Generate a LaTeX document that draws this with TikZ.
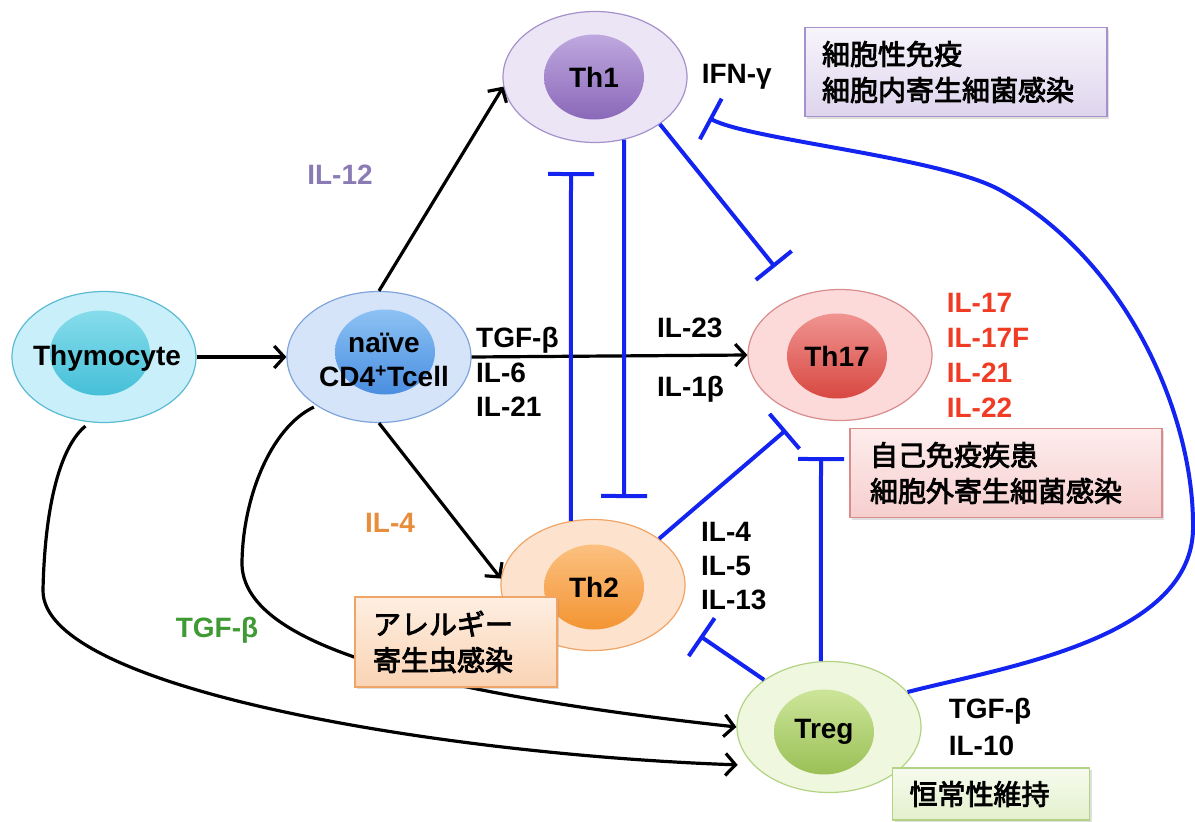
\documentclass[tikz,border=0pt]{standalone}
\usepackage{fontspec}
\setmainfont{Liberation Sans}
\newfontfamily\cjk{Noto Sans CJK JP}[UprightFeatures={FakeBold=3}]
\usetikzlibrary{arrows.meta,shapes.geometric,positioning,shadows}
\definecolor{thyout}{HTML}{C9F0FA}
\definecolor{thyline}{HTML}{5BBBD3}
\definecolor{thyinA}{HTML}{86DCEB}
\definecolor{thyinB}{HTML}{45C0D8}
\definecolor{naiveout}{HTML}{D6E4FA}
\definecolor{naiveline}{HTML}{7FA5DB}
\definecolor{naiveinA}{HTML}{8CC2F4}
\definecolor{naiveinB}{HTML}{4A8EE0}
\definecolor{thoneout}{HTML}{ECE5F5}
\definecolor{thoneline}{HTML}{A591CB}
\definecolor{thoneinA}{HTML}{BFA8DF}
\definecolor{thoneinB}{HTML}{8A68B9}
\definecolor{thsevout}{HTML}{FCDADA}
\definecolor{thsevline}{HTML}{D88C8C}
\definecolor{thsevinA}{HTML}{F09490}
\definecolor{thsevinB}{HTML}{D84842}
\definecolor{thtwoout}{HTML}{FDE3CE}
\definecolor{thtwoline}{HTML}{F0A466}
\definecolor{thtwoinA}{HTML}{FCC080}
\definecolor{thtwoinB}{HTML}{F39533}
\definecolor{tregout}{HTML}{EFF7DE}
\definecolor{tregline}{HTML}{B3D384}
\definecolor{treginA}{HTML}{CDE59A}
\definecolor{treginB}{HTML}{9AC056}
\definecolor{inhblue}{HTML}{1424F0}
\definecolor{ilpurple}{HTML}{8A7BB5}
\definecolor{ilorange}{HTML}{E88D3B}
\definecolor{ilgreen}{HTML}{3F9A34}
\definecolor{ilred}{HTML}{F03C24}
\tikzset{
    cellout/.style={
        ellipse,
        line width=1.2pt,
        minimum width=184pt,
        minimum height=131pt,
        inner sep=0pt,
    },
    cellin/.style={
        ellipse,
        align=center,
        minimum width=100pt,
        minimum height=85pt,
        inner sep=0pt,
    },
    act/.style={
        -{Straight Barb[length=10pt,width=22pt]},
        line width=3.2pt,
    },
    inhib/.style={
        -{Bar[width=46pt]},
        draw=inhblue,
        line width=4pt,
    },
    cyto/.style={
        align=left,
        inner sep=0pt,
    },
    notebox/.style={
        rectangle,
        line width=1.2pt,
        align=left,
        inner ysep=0pt,
        font=\cjk\mdseries\fontsize{28}{36}\selectfont,
        drop shadow={shadow xshift=2pt,shadow yshift=-2pt,opacity=0.25},
    }
}

\begin{document}
\begin{tikzpicture}[x=1pt,y=-1pt,font=\bfseries\fontsize{28}{35}\selectfont]
    \useasboundingbox (0,0) rectangle (1195,822);

    % cells
    \node [cellout,draw=thyline,fill=thyout] (thy) at (104,357) {};
    \node [cellin,top color=thyinA,bottom color=thyinB] (thyN) at (100,353) {};
    \node (thyT) at (107,358) {Thymocyte};
    \node [cellout,draw=naiveline,fill=naiveout] (naive) at (379,357) {};
    \node [cellin,top color=naiveinA,bottom color=naiveinB] (naiveN) at (385,352) {};
    \node [align=center,font=\bfseries\fontsize{28}{34}\selectfont] (naiveT) at (384,360)
        {naïve\\CD4\textsuperscript{+}Tcell};
    \node [cellout,draw=thoneline,fill=thoneout] (th1) at (595,77) {};
    \node [cellin,top color=thoneinA,bottom color=thoneinB] (th1N) at (594,77) {Th1};
    \node [cellout,draw=thsevline,fill=thsevout] (th17) at (840,355) {};
    \node [cellin,top color=thsevinA,bottom color=thsevinB] (th17N) at (837,356) {Th17};
    \node [cellout,draw=thtwoline,fill=thtwoout] (th2) at (593,585) {};
    \node [cellin,top color=thtwoinA,bottom color=thtwoinB] (th2N) at (594,587) {Th2};
    \node [cellout,draw=tregline,fill=tregout] (treg) at (829,727) {};
    \node [cellin,top color=treginA,bottom color=treginB] (tregN) at (824,732) {Treg};

    % differentiation
    \draw [act] (thy.east) -- (naive.west);
    \draw [act] (naive.north) -- (th1.186);
    \draw [act] (naive.east) -- (th17.west);
    \draw [act] (naive.south) -- (th2.176);
    \draw [act,shorten <=3pt] (naive.218) .. controls (270,428) and (242,500) .. (242,565)
        .. controls (245,640) and (400,690) .. (treg.west);
    \draw [act,shorten <=6pt,shorten >=16pt] (thy.258) .. controls (62,445) and (45,500) .. (43,590)
        .. controls (41,690) and (450,755) .. (treg.207);

    % inhibition
    \coordinate (th1stop) at (571,172);
    \coordinate (th2stop) at (624,498);
    \coordinate (th17stopA) at (775,267);
    \coordinate (th17stopB) at (786,430);
    \coordinate (th17stopC) at (821,457);
    \coordinate (th2stopB) at (700,636);
    \coordinate (th1stopB) at (709,118);
    \draw [inhib] (th2.109) -- (th1stop);
    \draw [inhib] (th1.295) -- (th2stop);
    \draw [inhib] (th1.-36) -- (th17stopA);
    \draw [inhib] (th2.35) -- (th17stopB);
    \draw [inhib] (treg.97) -- (th17stopC);
    \draw [inhib] (treg.144) -- (th2stopB);
    \draw [inhib] (treg.24) .. controls (1000,668) and (1190,640) .. (1193,530)
        .. controls (1195,420) and (1130,262) .. (1000,190)
        .. controls (940,157) and (750,140) .. (th1stopB);

    % cytokines
    \node [cyto,text=ilpurple] (il12) at (340,175) {IL-12};
    \node [cyto,text=ilorange] (il4) at (390,523) {IL-4};
    \node [cyto,text=ilgreen] (tgfb) at (217,630) {TGF-β};
    \node [cyto,anchor=west,font=\bfseries\fontsize{28}{34.5}\selectfont] (naivecyt) at (476,372)
        {TGF-β\\IL-6\\IL-21};
    \node [cyto,anchor=west] (il23) at (657,328) {IL-23};
    \node [cyto,anchor=west] (il1b) at (657,389) {IL-1β};
    \node [cyto,right=14pt of th1] (ifng) {IFN-γ};
    \node [cyto,text=ilred,right=14pt of th17] (th17cyt) {IL-17\\IL-17F\\IL-21\\IL-22};
    \node [cyto,anchor=west,font=\bfseries\fontsize{28}{34}\selectfont] (th2cyt) at (701,566)
        {IL-4\\IL-5\\IL-13};
    \node [cyto,right=27pt of treg,font=\bfseries\fontsize{28}{37}\selectfont] (tregcyt)
        {TGF-β\\IL-10};

    % notes
    \node [notebox,draw=thoneline,top color=white!60!thoneout,bottom color=thoneout!80!thoneline,
        text width=268pt,inner xsep=17pt,minimum height=89pt] (th1note) at (956,72)
        {細胞性免疫\\細胞内寄生細菌感染};
    \node [notebox,draw=thsevline,top color=white!50!thsevout,bottom color=thsevout!85!thsevline,
        text width=272pt,inner xsep=20pt,minimum height=89pt] (th17note) at (1006,473)
        {自己免疫疾患\\細胞外寄生細菌感染};
    \node [notebox,draw=thtwoline,top color=white!40!thtwoout,bottom color=thtwoout!75!thtwoline,
        text width=166pt,inner xsep=18pt,minimum height=90pt] (th2note) at (456,642)
        {アレルギー\\寄生虫感染};
    \node [notebox,draw=tregline,top color=white!50!tregout,bottom color=tregout!80!tregline,
        text width=163pt,inner xsep=17pt,minimum height=52pt] (tregnote) at (991,794)
        {恒常性維持};
\end{tikzpicture}
\end{document}
